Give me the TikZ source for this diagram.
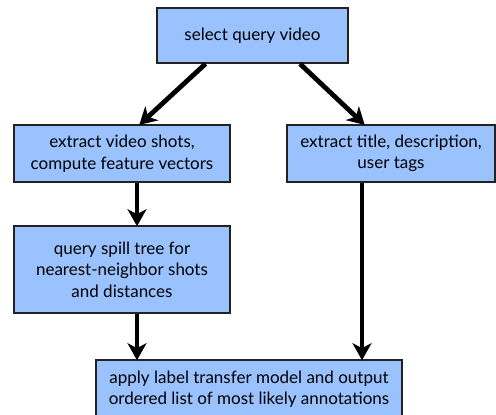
\documentclass[tikz,border=0pt]{standalone}
\usepackage{fontspec}
\setmainfont{Lato}
\usetikzlibrary{arrows.meta}
\definecolor{boxblue}{HTML}{99C2FF}
\definecolor{boxedge}{HTML}{222222}
\tikzset{
  stepbox/.style={draw=boxedge, line width=1.6pt, fill=boxblue, align=center,
    inner sep=0pt, font=\fontsize{17}{21.5}\selectfont},
  flow/.style={line width=4.8pt, -{Stealth[length=17pt,width=19pt,inset=5pt]}, shorten >=-1pt}
}
\begin{document}
\begin{tikzpicture}[x=1pt,y=-1pt]
\useasboundingbox (0,0) rectangle (496,415);
\node[stepbox, minimum width=191pt, minimum height=55pt] (query) at (252.5,35.5) {select query video};
\node[stepbox, minimum width=216pt, minimum height=57pt] (shots) at (122,153.5) {extract video shots,\\compute feature vectors};
\node[stepbox, minimum width=208pt, minimum height=57pt] (meta) at (391,153.5) {extract title, description,\\user tags};
\node[stepbox, minimum width=216pt, minimum height=87pt] (spill) at (122,269.5) {query spill tree for\\nearest-neighbor shots\\and distances};
\node[stepbox, minimum width=306pt, minimum height=58pt] (label) at (249,389) {apply label transfer model and output\\ordered list of most likely annotations};
\draw[flow] ([xshift=-47pt]query.south) -- ([xshift=18pt]shots.north);
\draw[flow] ([xshift=47.5pt]query.south) -- ([xshift=-27pt]meta.north);
\draw[flow] ([xshift=15pt]shots.south) -- ([xshift=15pt]spill.north);
\draw[flow] ([xshift=15pt]spill.south) -- ([xshift=-112pt]label.north);
\draw[flow] ([xshift=-29pt]meta.south) -- ([xshift=113pt]label.north);
\end{tikzpicture}
\end{document}
